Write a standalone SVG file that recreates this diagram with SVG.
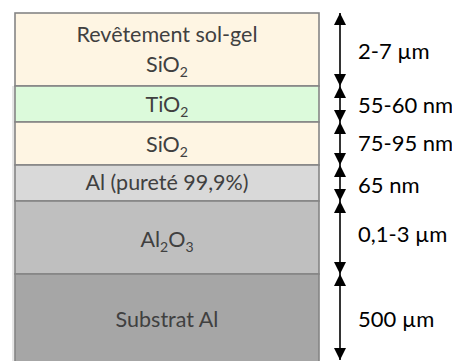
<svg xmlns="http://www.w3.org/2000/svg" width="452" height="361" viewBox="0 0 452 361">
<style>
.layer{stroke:#858585;stroke-width:1.6}
.lbl{font-family:Lato,"Open Sans","Liberation Sans",sans-serif;font-size:21.5px;fill:#404040;text-anchor:middle}
.dim{font-family:Lato,"Open Sans","Liberation Sans",sans-serif;font-size:22px;fill:#000}
.sub{font-size:14px}
.arr{stroke:#000;stroke-width:1.6;fill:none;marker-start:url(#ah);marker-end:url(#ah)}
</style>
<defs>
<marker id="ah" viewBox="0 0 12 12" refX="12" refY="6" markerWidth="12" markerHeight="12" markerUnits="userSpaceOnUse" orient="auto-start-reverse">
<path d="M0,0 L12,6 L0,12 z" fill="#000"/>
</marker>
</defs>
<rect x="12" y="86" width="3" height="275" fill="#e6e6e6"/>
<g id="layer-solgel">
<rect class="layer" x="15" y="13" width="304" height="73" fill="#FEF5E3"/>
<text class="lbl" x="167" y="42">Revêtement sol-gel</text>
<text class="lbl" x="167" y="72">SiO<tspan class="sub" dy="5">2</tspan></text>
</g>
<g id="layer-tio2">
<rect class="layer" x="15" y="86" width="304" height="36" fill="#DCFADB"/>
<text class="lbl" x="167" y="112">TiO<tspan class="sub" dy="5">2</tspan></text>
</g>
<g id="layer-sio2">
<rect class="layer" x="15" y="122" width="304" height="43" fill="#FEF5E3"/>
<text class="lbl" x="167" y="152">SiO<tspan class="sub" dy="5">2</tspan></text>
</g>
<g id="layer-al">
<rect class="layer" x="15" y="165" width="304" height="36" fill="#D9D9D9"/>
<text class="lbl" x="167" y="190">Al (pureté 99,9%)</text>
</g>
<g id="layer-al2o3">
<rect class="layer" x="15" y="201" width="304" height="73" fill="#BFBFBF"/>
<text class="lbl" x="167" y="247">Al<tspan class="sub" dy="5">2</tspan><tspan dy="-5">O</tspan><tspan class="sub" dy="5">3</tspan></text>
</g>
<g id="layer-substrat">
<rect class="layer" x="15" y="274" width="304" height="90" fill="#A6A6A6"/>
<text class="lbl" x="167" y="327">Substrat Al</text>
</g>
<g id="connectors">
<line class="arr" x1="340" y1="13" x2="340" y2="86"/>
<line class="arr" x1="340" y1="86" x2="340" y2="122"/>
<line class="arr" x1="340" y1="122" x2="340" y2="165"/>
<line class="arr" x1="340" y1="165" x2="340" y2="201"/>
<line class="arr" x1="340" y1="201" x2="340" y2="274"/>
<line class="arr" x1="340" y1="274" x2="340" y2="360"/>
</g>
<g id="dimensions">
<text class="dim" x="358" y="59">2-7 µm</text>
<text class="dim" x="358" y="113">55-60 nm</text>
<text class="dim" x="358" y="151">75-95 nm</text>
<text class="dim" x="358" y="193">65 nm</text>
<text class="dim" x="358" y="242">0,1-3 µm</text>
<text class="dim" x="358" y="327">500 µm</text>
</g>
</svg>
